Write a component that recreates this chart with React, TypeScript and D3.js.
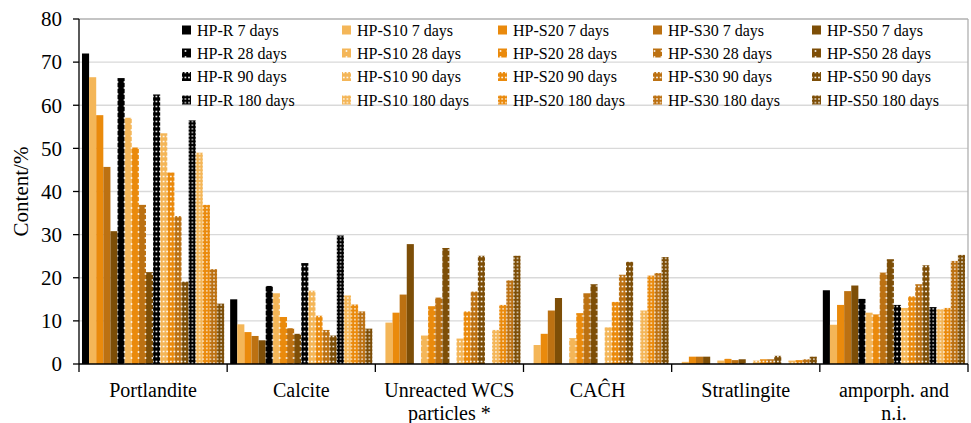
import { scaleBand, scaleLinear, range } from "d3";

// categories on the x axis ("\n" = line break in the label)
const categories = [
  "Portlandite",
  "Calcite",
  "Unreacted WCS\nparticles *",
  "CAĈH",
  "Stratlingite",
  "amporph. and\nn.i.",
];
const yTicks = [0, 10, 20, 30, 40, 50, 60, 70, 80];

const materials = ["HP-R", "HP-S10", "HP-S20", "HP-S30", "HP-S50"];
const ages = ["7 days", "28 days", "90 days", "180 days"];
const materialColors = ["#000000", "#F4B658", "#EA8A0C", "#BC7112", "#7D4E07"];

// values per series, one per category
const hpR7 = [72.0, 15.0, 0, 0, 0, 17.1];
const hpS10_7 = [66.5, 9.2, 9.6, 4.4, 0.5, 9.1];
const hpS20_7 = [57.7, 7.4, 11.9, 7.0, 1.7, 13.7];
const hpS30_7 = [45.7, 6.5, 16.1, 12.4, 1.7, 16.9];
const hpS50_7 = [30.8, 5.5, 27.8, 15.3, 1.7, 18.2];
const hpR28 = [66.3, 18.1, 0, 0, 0, 15.1];
const hpS10_28 = [57.1, 16.4, 6.6, 6.0, 0.8, 11.9];
const hpS20_28 = [50.2, 10.9, 13.4, 11.8, 1.2, 11.5];
const hpS30_28 = [36.9, 8.3, 15.4, 16.4, 0.9, 21.2];
const hpS50_28 = [21.3, 7.0, 26.9, 18.5, 1.1, 24.3];
const hpR90 = [62.5, 23.4, 0, 0, 0, 13.7];
const hpS10_90 = [53.5, 17.0, 5.9, 8.5, 0.8, 13.0];
const hpS20_90 = [44.4, 11.2, 12.2, 14.4, 1.1, 15.7];
const hpS30_90 = [34.3, 7.9, 16.8, 20.7, 1.1, 18.5];
const hpS50_90 = [19.1, 6.6, 25.1, 23.7, 1.9, 22.9];
const hpR180 = [56.5, 29.8, 0, 0, 0, 13.2];
const hpS10_180 = [49.0, 15.9, 7.9, 12.4, 0.8, 12.7];
const hpS20_180 = [36.9, 13.8, 13.7, 20.5, 0.9, 13.0];
const hpS30_180 = [22.0, 12.2, 19.4, 21.1, 1.1, 23.9];
const hpS50_180 = [14.0, 8.2, 25.1, 24.8, 1.7, 25.3];

// [age][material]
const seriesValues = [
  [hpR7, hpS10_7, hpS20_7, hpS30_7, hpS50_7],
  [hpR28, hpS10_28, hpS20_28, hpS30_28, hpS50_28],
  [hpR90, hpS10_90, hpS20_90, hpS30_90, hpS50_90],
  [hpR180, hpS10_180, hpS20_180, hpS30_180, hpS50_180],
];

const W = 971;
const H = 423;
const margin = { left: 79, right: 3, top: 19, bottom: 59 };
const font = "'Liberation Serif', 'Times New Roman', 'DejaVu Serif', serif";
const txt = { fontFamily: font };

// legend layout
const legendX = [197, 357, 513, 668, 827];
const legendY = [30, 53, 76.5, 100];

const series = ages.flatMap((age, a) =>
  materials.map((m, i) => ({
    id: `s${a}_${i}`,
    name: `${m} ${age}`,
    mat: i,
    age: a,
    color: materialColors[i],
    values: seriesValues[a][i],
  }))
);

const PatternDef = ({ id, color, age }: { id: string; color: string; age: number }) => {
  if (age === 0) return null;
  // tile size and dot size per age
  const cfg = [null, { w: 7, h: 6, d: 1.6 }, { w: 3.6, h: 5, d: 1.6 }, { w: 3.6, h: 3.6, d: 1.4 }][age]!;
  return (
    <pattern id={id} patternUnits="userSpaceOnUse" width={cfg.w} height={cfg.h}>
      <rect width={cfg.w} height={cfg.h} fill={color} />
      <rect x={cfg.w / 2 - cfg.d / 2} y={cfg.h / 2 - cfg.d / 2} width={cfg.d} height={cfg.d} fill="#ffffff" />
    </pattern>
  );
};

const App = () => {
  const innerW = W - margin.left - margin.right;
  const innerH = H - margin.top - margin.bottom;

  const x0 = scaleBand<number>().domain(range(categories.length)).range([0, innerW]).padding(0);
  const x1 = scaleBand<string>()
    .domain(series.map((s) => s.id))
    .range([0, x0.bandwidth()])
    .paddingInner(0)
    .paddingOuter(0.42);
  const y = scaleLinear().domain([0, 80]).range([innerH, 0]);

  const fillOf = (s: { id: string; age: number; color: string }) => (s.age === 0 ? s.color : `url(#p_${s.id})`);

  return (
    <svg width={W} height={H} style={{ position: "absolute", left: 0, top: 0, background: "#fff" }}>
      <defs>
        {series.map((s) => (
          <PatternDef key={s.id} id={`p_${s.id}`} color={s.color} age={s.age} />
        ))}
      </defs>
      <g transform={`translate(${margin.left},${margin.top})`}>
        {/* grid */}
        {yTicks.slice(1).map((t) => (
          <line key={t} x1={0} x2={innerW} y1={y(t)} y2={y(t)} stroke={t === 80 ? "#b0b0b0" : "#d9d9d9"} strokeWidth={1.3} />
        ))}
        <line x1={innerW} x2={innerW} y1={0} y2={innerH} stroke="#b0b0b0" strokeWidth={1.3} />

        {/* bars */}
        {categories.map((c, ci) => (
          <g key={ci} transform={`translate(${x0(ci)},0)`}>
            {series.map((s) =>
              s.values[ci] > 0 ? (
                <rect
                  key={s.id}
                  x={x1(s.id)}
                  y={y(s.values[ci])}
                  width={x1.bandwidth()}
                  height={innerH - y(s.values[ci])}
                  fill={fillOf(s)}
                />
              ) : null
            )}
          </g>
        ))}

        {/* y axis */}
        <line x1={0} x2={0} y1={0} y2={innerH} stroke="#000" strokeWidth={1.3} />
        {yTicks.map((t) => (
          <g key={t} transform={`translate(0,${y(t)})`}>
            <line x1={-6} x2={0} stroke="#000" strokeWidth={1.3} />
            <text x={-17} dy="0.35em" textAnchor="end" fontSize={21} fill="#000" style={txt}>
              {t}
            </text>
          </g>
        ))}
        <text
          transform={`translate(${-51},${innerH / 2}) rotate(-90)`}
          textAnchor="middle"
          fontSize={21}
          fill="#000"
          style={txt}
        >
          Content/%
        </text>

        {/* x axis */}
        <line x1={0} x2={innerW} y1={innerH} y2={innerH} stroke="#000" strokeWidth={1.3} />
        {range(categories.length + 1).map((i) => (
          <line
            key={i}
            x1={i * x0.step()}
            x2={i * x0.step()}
            y1={innerH}
            y2={innerH + 8}
            stroke="#000"
            strokeWidth={1.3}
          />
        ))}
        {categories.map((c, ci) => (
          <text key={ci} x={x0(ci)! + x0.bandwidth() / 2} y={innerH + 33} textAnchor="middle" fontSize={20} fill="#000" style={txt}>
            {c.split("\n").map((line, li) => (
              <tspan key={li} x={x0(ci)! + x0.bandwidth() / 2} dy={li === 0 ? 0 : 23}>
                {line}
              </tspan>
            ))}
          </text>
        ))}
      </g>

      {/* legend: columns = materials, rows = ages */}
      {series.map((s) => {
        const lx = legendX[s.mat];
        const ly = legendY[s.age];
        return (
          <g key={s.id}>
            <rect x={lx - 15} y={ly - 4.5} width={9} height={9} fill={fillOf(s)} />
            <text x={lx} y={ly} dy="0.35em" fontSize={16} fill="#000" style={txt}>
              {s.name}
            </text>
          </g>
        );
      })}
    </svg>
  );
};

export default App;
